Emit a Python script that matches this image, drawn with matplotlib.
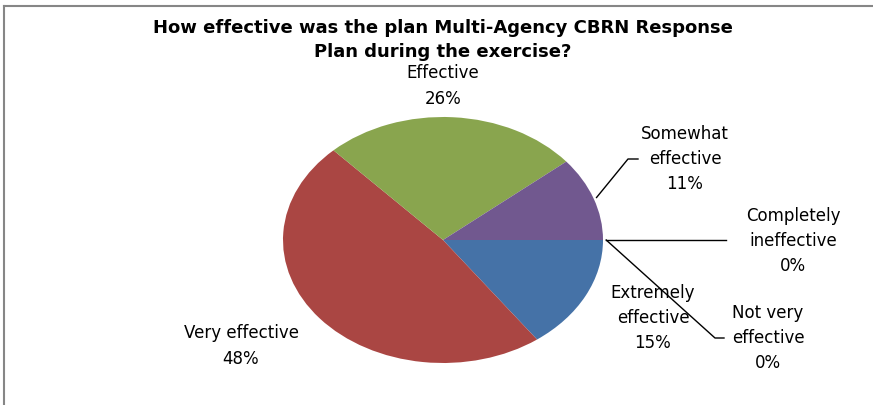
import numpy as np
import matplotlib.pyplot as plt
from matplotlib.lines import Line2D

# Survey answers, clockwise from 3 o'clock
categories = ['Extremely effective', 'Very effective', 'Effective',
              'Somewhat effective', 'Completely ineffective', 'Not very effective']
label_text = ['Extremely\neffective', 'Very effective', 'Effective',
              'Somewhat\neffective', 'Completely\nineffective', 'Not very\neffective']
values = [15, 48, 26, 11, 0, 0]
colors = ['#4572A7', '#AA4643', '#89A54E', '#71588F', '#4198AF', '#DB843D']

title = 'How effective was the plan Multi-Agency CBRN Response\nPlan during the exercise?'

W, H = 873, 405
fig = plt.figure(figsize=(W / 100, H / 100), dpi=100)
ax = fig.add_axes([0, 0, 1, 1])
ax.axis('off')

wedges, _ = ax.pie(values, colors=colors, startangle=0, counterclock=False,
                   radius=1, wedgeprops=dict(linewidth=0))

# pie is drawn as a flattened ellipse: centre and radii in pixels
cx, cy, rx, ry = 443, 240, 160, 123
ax.set_aspect('auto')
ax.set_xlim(-cx / rx, (W - cx) / rx)
ax.set_ylim(-(H - cy) / ry, cy / ry)

def px(x):
    return (x - cx) / rx

def py(y):
    return (cy - y) / ry

# label centres (pixels) and optional leader line elbows
label_pos = [(653, 318), (241, 346), (443, 86), (685, 159), (793, 241), (768, 338)]
elbows = [None, None, None, [(628, 159), (638, 159)],
          [(726, 240)], [(715, 338), (724, 338)]]

for w, txt, v, (lx, ly), elb in zip(wedges, label_text, values, label_pos, elbows):
    ax.text(px(lx), py(ly), f'{txt}\n{v}%', ha='center', va='center',
            fontsize=12, linespacing=1.5, color='black')
    if elb is not None:
        mid = np.deg2rad((w.theta1 + w.theta2) / 2)
        xs = [np.cos(mid) * 1.02] + [px(e[0]) for e in elb]
        ys = [np.sin(mid) * 1.02] + [py(e[1]) for e in elb]
        ax.plot(xs, ys, color='black', linewidth=1)

fig.text(443 / W, 1 - 40 / H, title, ha='center', va='center',
         fontsize=13, fontweight='bold', linespacing=1.45)

# chart frame (only top and left edges visible)
fig.add_artist(Line2D([4 / W, 4 / W], [0, 1 - 6 / H], color='#868686', linewidth=1.5))
fig.add_artist(Line2D([4 / W, 1], [1 - 6 / H, 1 - 6 / H], color='#868686', linewidth=1.5))

fig.savefig('out.png', dpi=100)
